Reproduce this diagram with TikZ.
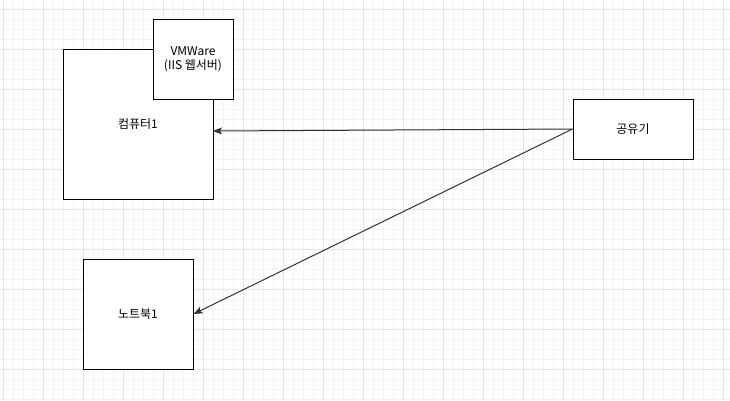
\documentclass[tikz,border=0pt]{standalone}
\usepackage{fontspec}
\setmainfont{Noto Sans CJK KR}
\usetikzlibrary{arrows.meta}
\definecolor{gridminor}{HTML}{F4F4F4}
\definecolor{gridmajor}{HTML}{E4E4E4}
\definecolor{edgecol}{HTML}{333333}
\tikzset{
  box/.style={draw=black, line width=1pt, fill=white, inner sep=0pt, align=center, font=\fontsize{12pt}{14pt}\selectfont},
  link/.style={draw=edgecol, line width=1pt, -{Stealth[length=9pt,width=7pt,inset=2pt]}},
  minorgrid/.style={draw=gridminor, line width=0.8pt},
  majorgrid/.style={draw=gridmajor, line width=0.8pt}
}
\begin{document}
\begin{tikzpicture}[x=1pt,y=-1pt]
\useasboundingbox (0,0) rectangle (730,400);
\fill[white] (0,0) rectangle (730,400);
\foreach \x in {3,13,...,723} \draw[minorgrid] (\x,0) -- (\x,400);
\foreach \y in {9,19,...,399} \draw[minorgrid] (0,\y) -- (730,\y);
\foreach \x in {3,43,...,723} \draw[majorgrid] (\x,0) -- (\x,400);
\foreach \y in {9,49,...,399} \draw[majorgrid] (0,\y) -- (730,\y);

\node[box, minimum width=150pt, minimum height=150pt] (comp) at (138,124) {컴퓨터1};
\node[box, minimum width=80pt, minimum height=80pt] (vm) at (193,59) {VMWare\\(IIS 웹서버)};
\node[box, minimum width=120pt, minimum height=60pt] (router) at (633,129) {공유기};
\node[box, minimum width=110pt, minimum height=110pt] (note) at (138,314) {노트북1};
\coordinate (compin) at (213,131);

\draw[link] (router.west) -- (compin);
\draw[link] (router.west) -- (note.east);
\end{tikzpicture}
\end{document}
